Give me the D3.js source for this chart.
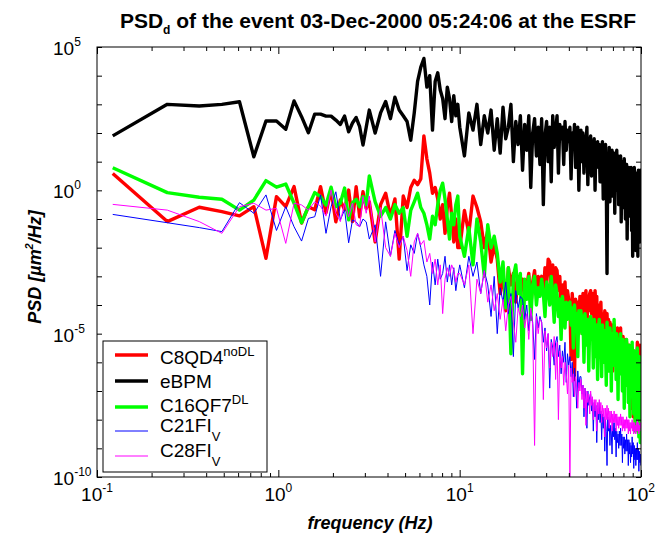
<!DOCTYPE html>
<html>
<head>
<meta charset="utf-8">
<script src="https://cdn.jsdelivr.net/npm/d3@7"></script>
<style>
  body { margin: 0; background: #fff; }
  svg { font-family: Arial, "Liberation Sans", sans-serif; }
</style>
</head>
<body>
<svg id="chart" width="664" height="539"></svg>
<script>
// FFT resolution (Hz); bins kept: all up to 3 Hz, every 2nd to 10 Hz, every 5th above
const df = 0.1221;
const bins = [].concat(d3.range(1, 26), d3.range(26, 81, 2), d3.range(82, 818, 5));

// log10 of PSD [um^2/Hz], one value per kept bin
const psdC8QD4 = [
  0.59, -1.09, -0.59, -0.74, -0.89, -0.57, -2.37, -0.22, -0.57, 0.13, -1.14, -0.57, -0.68, 0.13, -0.79, 0.01, -1.1, -0.34, -0.68, 0.01, -1.09, 0.13, -0.92, -0.05, -0.63,
  -0.4, -1.8, -0.5, -0.1, -0.9, -0.3, -2.4, -0.2, -0.6, 0.1, 0.35, 0.2, 0.4, 1.9, 1.1, 0.6, -0.1, 0.1, -0.3, -1.0, -0.5, -1.5, -0.6, -0.1, -0.9, -1.8, -1.0, -2.0,
  -2.0, -0.7, -1.5, -0.2, -0.6, -1.1, -2.0, -1.4, -2.5, -1.9,
  -2.4, -3.6, -2.8, -4.2, -2.7, -3.3, -2.9, -3.9, -3.0, -3.5,
  -3.1, -3.8, -3.3, -2.9, -4.1, -3.2, -2.8, -3.6, -3.0, -3.4,
  -3.0, -3.6, -2.7, -3.3, -2.4, -2.5, -3.4, -2.6, -3.8, -2.7,
  -2.8, -3.5, -3.0, -4.0, -3.3, -3.7, -3.2, -4.3, -3.5, -3.8,
  -3.9, -5.9, -3.6, -4.2, -6.6, -3.8, -4.5, -3.9, -5.0, -3.7,
  -3.9, -4.6, -3.6, -4.4, -3.8, -3.5, -4.8, -3.7, -4.2, -3.6,
  -3.5, -4.3, -3.6, -3.9, -4.8, -3.5, -4.1, -3.7, -5.2, -4.0,
  -4.1, -4.6, -3.9, -5.0, -4.3, -4.5, -5.8, -4.2, -4.7, -4.4,
  -4.3, -5.1, -4.5, -6.0, -4.6, -4.9, -5.6, -4.7, -6.3, -5.0,
  -4.7, -5.4, -4.9, -5.8, -5.0, -4.8, -5.5, -6.2, -5.1, -5.3,
  -4.8, -5.6, -5.2, -6.4, -5.1, -5.7, -5.3, -6.0, -5.5, -5.2,
  -5.3, -6.5, -5.5, -5.9, -7.0, -5.4, -6.1, -5.6, -7.6, -5.8,
  -5.5, -6.3, -7.9, -5.6, -6.6, -5.9, -8.3, -5.7, -6.8, -6.0,
  -5.3, -6.4, -8.4, -5.6, -7.0, -5.4, -6.2, -5.5
];
const psdEBPM = [
  1.9, 3.0, 2.94, 3.0, 3.09, 1.17, 2.42, 2.42, 2.13, 3.12, 2.57, 2.01, 2.66, 2.66, 2.59, 2.59, 2.45, 2.3, 2.59, 2.04, 2.35, 2.54, 2.22, 1.58, 2.2,
  2.8, 2.0, 2.7, 3.1, 2.5, 3.25, 2.8, 2.6, 2.4, 1.75, 2.7, 3.8, 4.3, 4.6, 3.6, 4.0, 2.1, 3.8, 4.1, 3.5, 3.2, 2.5, 3.6, 3.2, 2.4, 3.3, 2.6, 3.0,
  2.2, 1.2, 2.7, 2.1, 3.0, 1.6, 2.6, 2.0, 2.8, 1.4,
  2.5, 1.3, 2.9, 1.8, 2.2, 3.0, 1.0, 2.4, 1.6, 2.6,
  0.7, 2.3, 1.4, 2.6, 0.1, 2.0, 2.5, 1.2, 2.2, 0.9,
  2.5, -0.5, 1.9, 2.4, 1.0, 2.2, 0.3, 2.6, 1.5, 2.1,
  2.6, 0.6, 2.3, 1.8, 2.2, 0.9, 2.4, 1.4, 2.1, 1.7,
  2.2, 0.4, 2.0, 1.5, 2.3, 0.8, 1.9, 2.2, 0.0, 1.8,
  2.1, 1.0, 2.0, 0.6, 1.9, 1.4, 2.2, 0.2, 1.8, 1.6,
  1.9, 0.5, 1.7, 1.2, 1.8, 0.0, 1.6, 1.3, 1.7, 0.8,
  1.6, 0.3, 1.5, 1.0, 1.7, -0.3, 1.4, 1.1, 1.6, 0.4,
  -2.9, 1.2, 0.5, 1.5, -0.4, 1.3, 0.9, 1.4, -0.2, 1.1,
  1.3, -0.8, 1.1, 0.6, 1.4, 0.0, 1.2, -0.5, 1.0, 0.7,
  1.2, -1.1, 1.0, 0.3, 0.9, -0.6, 1.1, 0.4, -1.0, 0.8,
  0.9, -1.7, 0.7, 0.1, 0.8, -0.9, 0.6, -0.2, 0.8, -1.4,
  0.7, -2.3, 0.5, -0.4, 0.8, -1.2, 0.3, -2.1, 0.6, -0.5,
  0.5, -2.3, 0.7, -1.0, 0.4, -1.8, 0.7, -1.2
];
const psdC16QF7 = [
  0.79, -0.08, -0.24, -0.31, -0.69, -0.34, 0.34, 0.11, 0.22, -0.45, -1.13, -0.57, -0.08, -0.22, -0.51, 0.11, -0.57, -0.45, 0.08, -1.03, -0.43, -0.31, -0.57, -0.22, -0.5,
  0.5, -0.4, -0.9, -0.6, -1.0, -0.5, -0.8, -0.6, -1.6, -0.7, -0.4, -0.1, -0.6, -0.8, -1.2, -1.7, -0.9, -1.2, -0.5, 0.0, 0.25, -0.3, -1.0, -1.7, -0.8, -1.2, -0.5, -0.2,
  -1.6, -2.3, -1.3, -2.6, -1.0, -1.8, -3.0, -1.2, -2.0, -1.6,
  -2.2, -3.2, -2.5, -4.1, -2.7, -5.7, -3.0, -2.6, -3.6, -2.9,
  -6.4, -3.1, -3.8, -3.0, -4.5, -3.3, -3.0, -4.0, -3.4, -3.7,
  -3.1, -3.6, -4.4, -3.2, -3.4, -4.0, -3.0, -3.7, -4.6, -3.3,
  -3.6, -4.4, -3.8, -5.2, -3.7, -4.2, -4.8, -3.9, -4.5, -4.0,
  -3.9, -4.7, -4.1, -5.5, -4.0, -4.6, -4.3, -5.8, -4.2, -4.9,
  -4.2, -5.0, -4.4, -6.0, -4.3, -4.8, -5.4, -4.5, -6.3, -4.6,
  -4.4, -5.2, -4.6, -6.2, -4.5, -5.0, -5.8, -4.7, -6.6, -4.9,
  -4.5, -5.4, -4.8, -6.5, -4.7, -5.1, -6.0, -4.9, -5.5, -6.8,
  -4.6, -5.5, -5.0, -6.3, -4.8, -5.2, -7.0, -5.0, -5.7, -6.1,
  -4.5, -5.6, -5.1, -6.6, -5.0, -5.4, -7.3, -5.2, -5.9, -6.4,
  -5.0, -5.8, -5.3, -7.0, -5.2, -6.1, -7.6, -5.4, -6.3, -6.8,
  -5.2, -6.2, -5.5, -7.4, -5.4, -6.4, -7.9, -5.6, -6.8, -7.2,
  -5.3, -6.5, -5.8, -7.8, -5.6, -6.9, -8.4, -5.9, -7.1, -7.6,
  -5.5, -6.8, -6.0, -8.6, -5.8, -7.3, -8.8, -6.4
];
const psdC21FIV = [
  -0.84, -1.13, -1.3, -1.44, -0.43, -0.8, -0.16, -1.4, -0.57, -1.27, -1.77, -0.98, -0.92, -0.16, -1.5, -0.57, -0.05, -1.03, -0.68, -1.83, -1.03, -1.1, -1.27, -1.0, -1.1,
  -1.7, -1.2, -3.0, -1.1, -2.3, -1.4, -1.9, -1.6, -2.8, -1.9, -2.2, -1.5, -2.0, -2.6, -3.0, -4.0, -2.5, -3.3, -2.4, -3.1, -2.9, -2.3, -3.2, -2.6, -3.3, -2.7, -3.5, -3.0,
  -2.6, -3.4, -2.3, -3.0, -2.5, -3.6, -2.8, -3.3, -4.4, -3.0,
  -5.0, -3.4, -3.9, -3.2, -4.3, -3.6, -5.8, -3.5, -4.1, -3.7,
  -3.8, -4.5, -4.0, -4.9, -4.2, -4.6, -5.9, -4.3, -4.8, -4.4,
  -4.6, -5.3, -4.8, -5.6, -5.0, -6.9, -5.2, -5.5, -6.1, -5.3,
  -5.1, -5.8, -5.4, -6.4, -5.6, -6.0, -5.3, -6.7, -5.7, -6.1,
  -5.8, -6.5, -6.0, -7.2, -6.2, -6.6, -7.6, -6.3, -6.9, -6.5,
  -6.5, -7.1, -6.8, -7.9, -6.9, -7.3, -8.3, -7.0, -7.5, -7.2,
  -7.1, -7.7, -7.3, -8.4, -7.4, -7.9, -7.5, -8.8, -7.6, -8.0,
  -7.4, -8.1, -7.7, -8.7, -7.8, -8.3, -7.9, -9.1, -8.0, -8.4,
  -9.6, -7.9, -8.4, -8.0, -8.9, -8.2, -8.5, -9.2, -8.1, -8.6,
  -8.1, -8.7, -8.3, -9.3, -8.4, -8.8, -8.5, -9.0, -8.4, -8.9,
  -8.3, -8.9, -8.5, -9.5, -8.6, -9.0, -8.6, -9.2, -8.7, -9.1,
  -8.5, -9.1, -8.7, -9.6, -8.7, -9.2, -8.8, -9.5, -8.9, -9.3,
  -8.6, -9.2, -8.8, -9.7, -8.9, -9.4, -9.0, -9.6, -9.0, -9.4,
  -8.8, -9.4, -9.0, -9.8, -9.1, -9.5, -9.2, -9.6
];
const psdC28FIV = [
  -0.49, -0.69, -1.09, -1.5, -0.57, -0.45, -0.69, -0.63, -1.85, -0.45, -0.51, -0.69, -0.4, -0.55, -0.9, 0.01, -0.8, -1.09, -0.45, -0.92, -0.45, -1.2, -1.27, -0.22, -0.8,
  -0.2, -1.8, -0.6, -2.0, -2.3, -1.5, -2.0, -1.6, -2.1, -3.0, -1.8, -1.5, -1.9, -1.75, -2.5, -2.2, -2.9, -2.4, -3.3, -2.6, -4.3, -3.1, -2.7, -3.0, -2.6, -2.8, -3.2, -2.9,
  -2.9, -3.3, -2.6, -5.0, -3.1, -3.6, -2.8, -3.9, -3.3, -4.2,
  -3.6, -4.5, -3.8, -4.9, -4.0, -3.7, -4.6, -5.3, -4.1, -4.4,
  -4.0, -4.8, -4.3, -5.2, -4.1, -4.7, -8.9, -4.4, -5.0, -4.5,
  -4.6, -7.3, -4.9, -5.5, -5.0, -6.2, -5.3, -5.8, -5.1, -6.6,
  -5.3, -8.0, -5.6, -6.2, -5.8, -6.8, -6.0, -6.4, -7.1, -6.1,
  -10.3, -6.2, -6.7, -6.4, -7.2, -6.5, -6.9, -7.6, -6.7, -7.0,
  -6.6, -7.3, -6.8, -7.6, -6.9, -8.2, -7.0, -7.4, -7.1, -7.8,
  -7.0, -7.5, -7.2, -8.0, -7.3, -7.7, -7.3, -8.4, -7.4, -7.8,
  -7.3, -7.8, -7.4, -8.1, -7.5, -7.9, -7.6, -8.6, -7.6, -8.0,
  -7.5, -8.0, -7.6, -8.3, -7.7, -8.1, -7.7, -8.4, -7.8, -8.1,
  -7.7, -8.1, -7.8, -8.4, -7.8, -8.2, -7.9, -8.3, -7.9, -8.2,
  -7.8, -8.2, -7.9, -8.4, -7.9, -8.3, -8.0, -8.4, -8.0, -8.3,
  -7.9, -8.3, -8.0, -8.5, -8.0, -8.4, -8.1, -8.5, -8.1, -8.3,
  -8.0, -8.4, -8.1, -8.5, -8.1, -8.4, -8.2, -8.5, -8.1, -8.4,
  -8.0, -8.4, -8.1, -8.5, -8.2, -8.4, -8.1, -8.3
];

const xDecades = [0.1, 1, 10, 100];
const yDecades = [-10, -9, -8, -7, -6, -5, -4, -3, -2, -1, 0, 1, 2, 3, 4, 5];
const yLabelExps = [5, 0, -5, -10];

const series = [
  { name: 'C8QD4', sup: 'noDL', color: '#ff0000', width: 3.4, values: psdC8QD4 },
  { name: 'eBPM', color: '#000000', width: 3.4, values: psdEBPM },
  { name: 'C16QF7', sup: 'DL', color: '#00ff00', width: 3.4, values: psdC16QF7 },
  { name: 'C21FI', sub: 'V', color: '#0000ff', width: 1, values: psdC21FIV },
  { name: 'C28FI', sub: 'V', color: '#ff00ff', width: 1, values: psdC28FIV }
];
series.forEach(s => {
  if (s.values.length !== bins.length) console.error(s.name, s.values.length, bins.length);
});

const svg = d3.select('#chart');
const plotL = 97, plotR = 641, plotT = 47, plotB = 477;

const x = d3.scaleLog().domain([0.1, 100]).range([plotL, plotR]);
const y = d3.scaleLog().domain([1e-10, 1e5]).range([plotB, plotT]);

svg.append('defs').append('clipPath').attr('id', 'plotClip')
  .append('rect')
  .attr('x', plotL).attr('y', plotT)
  .attr('width', plotR - plotL).attr('height', plotB - plotT);

// data
const line = d3.line()
  .x((d, i) => x(bins[i] * df))
  .y(d => y(Math.pow(10, d)));

svg.append('g')
  .attr('clip-path', 'url(#plotClip)')
  .selectAll('path')
  .data(series)
  .enter()
  .append('path')
  .attr('d', d => line(d.values))
  .attr('fill', 'none')
  .attr('stroke', d => d.color)
  .attr('stroke-width', d => d.width)
  .attr('stroke-linejoin', 'round');

// ticks
const xMinor = [];
xDecades.slice(0, 3).forEach(dec => d3.range(2, 10).forEach(k => xMinor.push(dec * k)));
const yTicks = yDecades.map(e => Math.pow(10, e));

function tickAxis(axis, transform) {
  const g = svg.append('g').attr('transform', transform).call(axis);
  g.select('.domain').remove();
  g.selectAll('line').attr('stroke', '#000');
}
tickAxis(d3.axisBottom(x).tickValues(xMinor).tickSize(-4).tickFormat(''), `translate(0,${plotB})`);
tickAxis(d3.axisBottom(x).tickValues(xDecades).tickSize(-7).tickFormat(''), `translate(0,${plotB})`);
tickAxis(d3.axisTop(x).tickValues(xMinor).tickSize(-4).tickFormat(''), `translate(0,${plotT})`);
tickAxis(d3.axisTop(x).tickValues(xDecades).tickSize(-7).tickFormat(''), `translate(0,${plotT})`);
tickAxis(d3.axisLeft(y).tickValues(yTicks).tickSize(-5).tickFormat(''), `translate(${plotL},0)`);
tickAxis(d3.axisRight(y).tickValues(yTicks).tickSize(-5).tickFormat(''), `translate(${plotR},0)`);

svg.append('rect')
  .attr('x', plotL).attr('y', plotT)
  .attr('width', plotR - plotL).attr('height', plotB - plotT)
  .attr('fill', 'none').attr('stroke', '#000').attr('stroke-width', 1);

// tick labels
const xl = svg.append('g').selectAll('text')
  .data(xDecades).enter().append('text')
  .attr('x', d => x(d)).attr('y', 501)
  .attr('text-anchor', 'middle').attr('font-size', 19);
xl.append('tspan').text('10');
xl.append('tspan').attr('font-size', 12).attr('dy', -9).text(d => Math.round(Math.log10(d)));

const yl = svg.append('g').selectAll('text')
  .data(yLabelExps).enter().append('text')
  .attr('x', 53).attr('y', d => y(Math.pow(10, d)) + 8)
  .attr('font-size', 19);
yl.append('tspan').text('10');
yl.append('tspan').attr('font-size', 12).attr('dy', -9).text(d => d);

// title and axis labels
const title = svg.append('text')
  .attr('x', 378).attr('y', 28)
  .attr('text-anchor', 'middle')
  .attr('font-size', 21).attr('font-weight', 'bold');
title.append('tspan').text('PSD');
title.append('tspan').attr('font-size', 12).attr('dy', 6).text('d');
title.append('tspan').attr('dy', -6).text(' of the event 03-Dec-2000 05:24:06 at the ESRF');

svg.append('text')
  .attr('x', 370).attr('y', 529)
  .attr('text-anchor', 'middle')
  .attr('font-size', 18).attr('font-weight', 'bold').attr('font-style', 'italic')
  .text('frequency (Hz)');

const ylab = svg.append('text')
  .attr('transform', 'translate(41,267) rotate(-90)')
  .attr('text-anchor', 'middle')
  .attr('font-size', 18).attr('font-weight', 'bold').attr('font-style', 'italic');
ylab.append('tspan').text('PSD [\u00b5m');
ylab.append('tspan').attr('font-size', 11).attr('dy', -8).text('2');
ylab.append('tspan').attr('dy', 8).text('/Hz]');

// legend
const legend = svg.append('g');
legend.append('rect')
  .attr('x', 103).attr('y', 341).attr('width', 164).attr('height', 131)
  .attr('fill', '#fff').attr('stroke', '#000');

const rowY = [355, 381, 407, 431, 456];
const textY = [364, 388, 412, 431.5, 456.5];
series.forEach((s, i) => {
  legend.append('line')
    .attr('x1', 115).attr('x2', 148)
    .attr('y1', rowY[i]).attr('y2', rowY[i])
    .attr('stroke', s.color).attr('stroke-width', s.width);
  const t = legend.append('text')
    .attr('x', 160).attr('y', textY[i])
    .attr('font-size', 19);
  t.append('tspan').text(s.name);
  if (s.sup) t.append('tspan').attr('font-size', 13).attr('dy', -8).text(s.sup);
  if (s.sub) t.append('tspan').attr('font-size', 13).attr('dy', 9).text(s.sub);
});
</script>
</body>
</html>
